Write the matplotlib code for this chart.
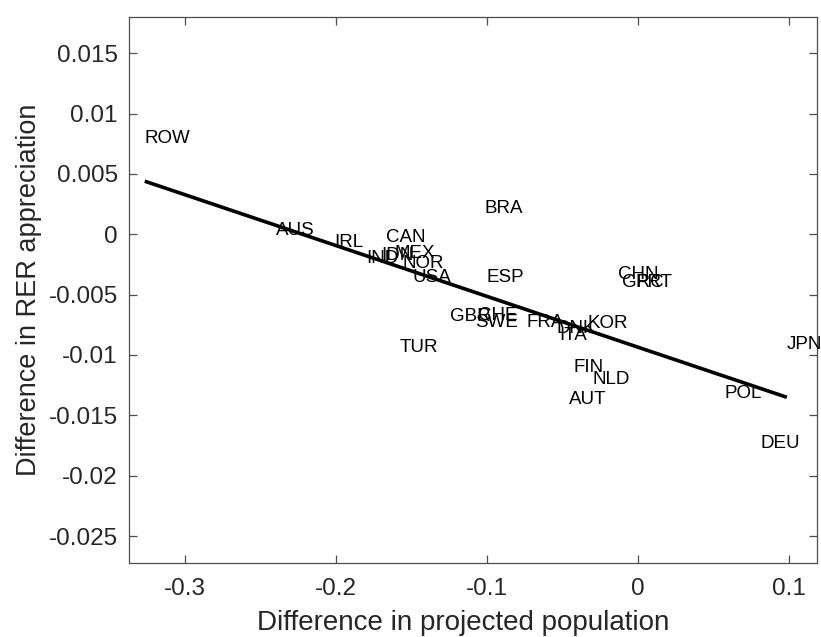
import numpy as np
import matplotlib
matplotlib.use("Agg")
import matplotlib.pyplot as plt

# country labels placed at (projected population diff, RER appreciation diff)
countries = ["ROW", "AUS", "IRL", "CAN", "MEX", "IND", "IDN", "NOR", "USA",
             "BRA", "ESP", "CHN", "GRC", "PRT", "GBR", "CHE", "SWE", "FRA",
             "DNK", "ITA", "KOR", "TUR", "FIN", "NLD", "AUT", "POL", "DEU",
             "JPN"]
pop_diff = [-0.3265, -0.2397, -0.2007, -0.1669, -0.1609, -0.1795, -0.1702,
            -0.1556, -0.1490, -0.1013, -0.1000, -0.0132, -0.0106, -0.0013,
            -0.1245, -0.1060, -0.1079, -0.0735, -0.0536, -0.0517, -0.0331,
            -0.1576, -0.0424, -0.0298, -0.0457, 0.0576, 0.0815, 0.0987]
rer_diff = [0.0079, 0.0003, -0.0007, -0.0003, -0.0016, -0.0020, -0.0018,
            -0.0024, -0.0036, 0.0021, -0.0036, -0.0033, -0.0040, -0.0040,
            -0.0068, -0.0067, -0.0073, -0.0073, -0.0078, -0.0084, -0.0074,
            -0.0094, -0.0110, -0.0120, -0.0137, -0.0132, -0.0173, -0.0091]

# fitted line
fit_slope = -0.0421
fit_intercept = -0.00935

xticks = [-0.3, -0.2, -0.1, 0, 0.1]
xtick_labels = ["-0.3", "-0.2", "-0.1", "0", "0.1"]
yticks = [0.015, 0.01, 0.005, 0, -0.005, -0.01, -0.015, -0.02, -0.025]
ytick_labels = ["0.015", "0.01", "0.005", "0", "-0.005", "-0.01", "-0.015",
                "-0.02", "-0.025"]

plt.rcParams['font.family'] = ['Liberation Sans', 'DejaVu Sans']
plt.rcParams['axes.unicode_minus'] = False

fig = plt.figure(figsize=(8.21, 6.37), dpi=100)
ax = fig.add_axes([0.157, 0.116, 0.838, 0.857])

x = np.array(pop_diff)
y = np.array(rer_diff)
xs = np.array([x.min(), x.max()])
ax.plot(xs, fit_intercept + fit_slope * xs, color='black', lw=2.6,
        solid_capstyle='butt')

for name, px, py in zip(countries, x, y):
    ax.text(px, py, name, ha='left', va='center', fontsize=13.5,
            color='black', clip_on=False)

ax.set_xlim(-0.337, 0.1186)
ax.set_ylim(-0.02724, 0.01798)
ax.set_xticks(xticks)
ax.set_xticklabels(xtick_labels)
ax.set_yticks(yticks)
ax.set_yticklabels(ytick_labels)

edge = '#262626'
for s in ax.spines.values():
    s.set_color('#4d4d4d')
    s.set_linewidth(0.9)
ax.tick_params(direction='in', length=6, width=0.9, color='#4d4d4d',
               labelsize=17.5, labelcolor=edge, top=True, right=True)
ax.tick_params(axis='x', pad=11)
ax.tick_params(axis='y', pad=8)

ax.set_xlabel("Difference in projected population", fontsize=20,
              color=edge)
ax.xaxis.set_label_coords(0.486, -0.086)
ax.set_ylabel("Difference in RER appreciation", fontsize=19.5,
              color=edge, labelpad=5)

fig.savefig("out.png", dpi=100)
